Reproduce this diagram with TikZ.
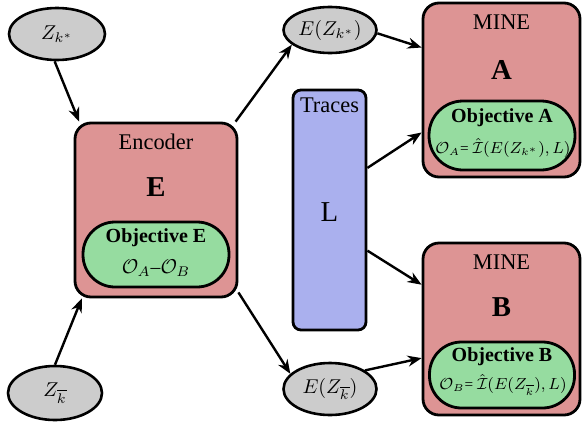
\documentclass[tikz,border=0pt]{standalone}
\usepackage{fontspec}
\setmainfont{Liberation Serif}
\usetikzlibrary{arrows.meta,shapes.geometric}
\definecolor{pinkbox}{HTML}{DD9494}
\definecolor{greenobj}{HTML}{96DCA0}
\definecolor{bluetr}{HTML}{AAB0EE}
\definecolor{grayvar}{HTML}{CCCCCC}
\tikzset{
  var/.style={ellipse,draw=black,line width=1.3pt,fill=grayvar,inner sep=0pt,font=\fontsize{10}{12}\selectfont},
  bigbox/.style={rectangle,draw=black,line width=1.4pt,fill=pinkbox,rounded corners=8pt,inner sep=0pt},
  objbox/.style={rectangle,draw=black,line width=1.4pt,fill=greenobj,inner sep=0pt},
  trbox/.style={rectangle,draw=black,line width=1.4pt,fill=bluetr,rounded corners=4pt,inner sep=0pt},
  lbl/.style={inner sep=0pt,font=\fontsize{11.2}{13}\selectfont},
  biglbl/.style={inner sep=0pt,font=\fontsize{14.4}{16}\selectfont\bfseries},
  objlbl/.style={inner sep=0pt,font=\fontsize{10}{12}\selectfont\bfseries},
  fml/.style={inner sep=0pt,font=\fontsize{7.6}{9}\selectfont},
  fmlE/.style={inner sep=0pt,font=\fontsize{9.8}{11}\selectfont},
  conn/.style={-{Stealth[length=7pt,width=5.5pt]},line width=1.2pt,shorten >=0pt}
}
\begin{document}
\begin{tikzpicture}[x=0.5pt,y=-0.5pt]
\useasboundingbox (0,0) rectangle (582,423);
% variables
\node[var,minimum width=48pt,minimum height=26pt] (zk) at (57,34) {$Z_{k^*}$};
\node[var,minimum width=47pt,minimum height=27pt] (zb) at (55,393) {$Z_{\overline{k}}$};
\node[var,minimum width=46.5pt,minimum height=23pt] (ezk) at (330,30) {$E(Z_{k^*})$};
\node[var,minimum width=46.5pt,minimum height=26pt] (ezb) at (330,389) {$E(Z_{\overline{k}})$};
% encoder
\node[bigbox,minimum width=81pt,minimum height=87pt] (enc) at (156,210) {};
\node[lbl] (enctxt) at (156,142) {Encoder};
\node[biglbl] (encE) at (156,187) {E};
\node[objbox,rounded corners=16pt,minimum width=73pt,minimum height=32.5pt] (objE) at (156,254.5) {};
\node[objlbl] (objEt) at (156,238) {Objective E};
\node[fmlE] (objEf) at (156,268) {$\mathcal{O}_A$--$\mathcal{O}_B$};
% traces
\node[trbox,minimum width=36.5pt,minimum height=120pt] (tr) at (329.5,210) {};
\node[lbl] (trtxt) at (329.5,105) {Traces};
\node[inner sep=0pt,font=\fontsize{14.4}{16}\selectfont] (trL) at (329.5,212) {L};
% MINE A
\node[bigbox,minimum width=78.5pt,minimum height=87pt] (mineA) at (501.5,90) {};
\node[lbl] (mAt) at (501.5,22) {MINE};
\node[biglbl] (mAA) at (501.5,70) {A};
\node[objbox,rounded corners=17pt,minimum width=73pt,minimum height=34.5pt] (objA) at (502,135.5) {};
\node[objlbl] (objAt) at (502,118) {Objective A};
\node[fml] (objAf) at (503,148) {$\mathcal{O}_A$= $\hat{\mathcal{I}}(E(Z_{k^*}),L)$};
% MINE B
\node[bigbox,minimum width=78.5pt,minimum height=86pt] (mineB) at (501.5,329) {};
\node[lbl] (mBt) at (501.5,262) {MINE};
\node[biglbl] (mBB) at (501.5,307) {B};
\node[objbox,rounded corners=16pt,minimum width=72.5pt,minimum height=33pt] (objB) at (502,375) {};
\node[objlbl] (objBt) at (502,357) {Objective B};
\node[fml] (objBf) at (503,385) {$\mathcal{O}_B$= $\hat{\mathcal{I}}(E(Z_{\overline{k}}),L)$};
% connectors
\draw[conn] (zk.-95) -- (enc.131);
\draw[conn] (zb.north) -- (enc.230);
\draw[conn] (enc.48) -- (ezk.201);
\draw[conn] (enc.-45) -- (ezb.159);
\draw[conn] (ezk.-4) -- (mineA.152);
\draw[conn] (tr.48) -- (mineA.208);
\draw[conn] (tr.-47) -- (mineB.151);
\draw[conn] (ezb.28) -- (mineB.200);
\end{tikzpicture}
\end{document}
